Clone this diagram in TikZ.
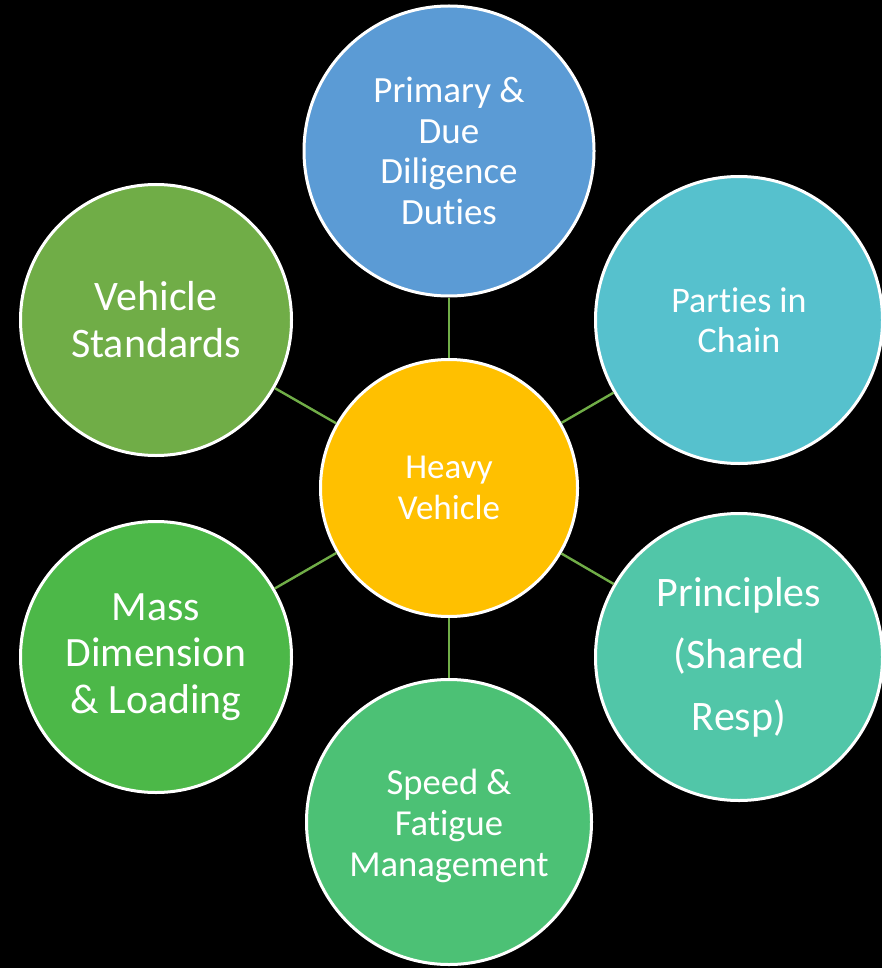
\documentclass[tikz,border=0pt]{standalone}
\usepackage{fontspec}
\setmainfont{Carlito}[Ligatures=NoCommon]
\usepackage{tikz}
\usetikzlibrary{arrows}

\definecolor{duty}{HTML}{5B9BD5}
\definecolor{chain}{HTML}{56C1CD}
\definecolor{princ}{HTML}{51C6A8}
\definecolor{speedc}{HTML}{4CC175}
\definecolor{massc}{HTML}{4CB848}
\definecolor{stdc}{HTML}{70AD47}
\definecolor{hvc}{HTML}{FFC000}
\definecolor{link}{HTML}{70AD47}

\begin{document}
\begin{tikzpicture}[x=1pt, y=-1pt,
  bubble/.style={circle, draw=white, line width=3pt, text=white, align=center, inner sep=0pt},
  link/.style={draw=link, line width=2.4pt}]
%%%%% Background %%%%%
\fill[black] (0,0) rectangle (882,968);
\useasboundingbox (0,0) rectangle (882,968);
%%%%% Bubbles %%%%%
\node[bubble, fill=hvc, minimum size=257pt, font=\fontsize{35}{41}\selectfont] (hv) at (449,488) {Heavy\\Vehicle};
\node[bubble, fill=duty, minimum size=290pt, font=\fontsize{37}{40.7}\selectfont] (duty) at (449,151) {Primary \&\\Due\\Diligence\\Duties};
\node[bubble, fill=chain, minimum size=287pt, font=\fontsize{36}{40}\selectfont] (chain) at (739,320) {Parties in\\Chain};
\node[bubble, fill=princ, minimum size=287pt, font=\fontsize{42}{62}\selectfont] (princ) at (739,657) {Principles\\(Shared\\Resp)};
\node[bubble, fill=speedc, minimum size=285pt, font=\fontsize{36.6}{41}\selectfont] (speed) at (449,822) {\\[-8pt]Speed \&\\Fatigue\\Management};
\node[bubble, fill=massc, minimum size=271pt, font=\fontsize{41.7}{46.5}\selectfont] (mass) at (156,657) {Mass\\Dimension\\\& Loading};
\node[bubble, fill=stdc, minimum size=271pt, font=\fontsize{42}{47}\selectfont] (std) at (156,320) {Vehicle\\Standards};
%%%%% Links %%%%%
\foreach \n in {duty,chain,princ,speed,mass,std}{
\draw[link] (hv) -- (\n);
}
\end{tikzpicture}
\end{document}
